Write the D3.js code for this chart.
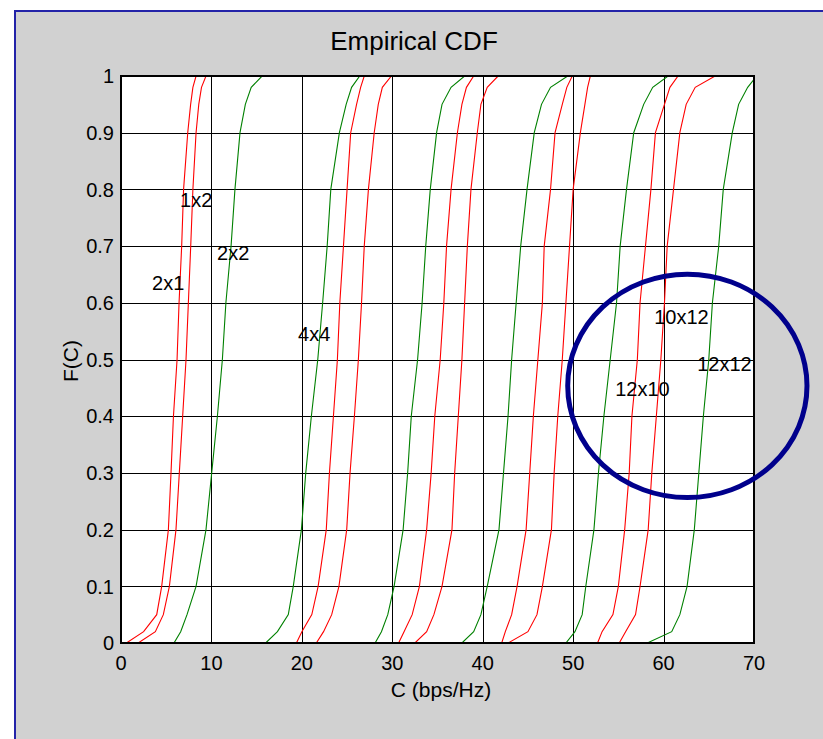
<!DOCTYPE html>
<html>
<head>
<meta charset="utf-8">
<script src="https://cdn.jsdelivr.net/npm/d3@7"></script>
<style>
  body { margin: 0; background: #fff; }
  text { font-family: "Liberation Sans", Arial, sans-serif; fill: #000; }
</style>
</head>
<body>
<div id="chart"></div>
<script>
const levels = [0, 0.02, 0.05, 0.1, 0.2, 0.3, 0.4, 0.5, 0.6, 0.7, 0.8, 0.9, 0.95, 0.98, 1];

// capacity (bps/Hz) at each level, one array per antenna configuration
const c2x1   = [0.6, 2.5, 3.95, 4.5, 5.24, 5.53, 5.8, 6.2, 6.42, 6.71, 6.92, 7.38, 7.7, 7.95, 8.3];
const c1x2   = [1.9, 3.8, 4.68, 5.35, 6.08, 6.45, 6.82, 7.19, 7.45, 7.71, 7.95, 8.3, 8.6, 8.9, 9.4];
const c2x2   = [5.86, 6.6, 7.3, 8.3, 9.4, 10.03, 10.66, 11.21, 11.6, 12.17, 12.6, 13.16, 13.75, 14.4, 15.6];
const c4x4   = [16.0, 17.3, 18.5, 19.05, 19.95, 20.43, 21.05, 21.76, 22.3, 22.8, 23.2, 24.15, 24.9, 25.5, 26.4];
const c6x4   = [19.4, 20.0, 21.1, 21.8, 22.7, 23.05, 23.49, 23.93, 24.2, 24.6, 25.0, 25.4, 26.05, 26.5, 26.9];
const c4x6   = [21.6, 22.4, 23.3, 24.1, 24.96, 25.33, 25.81, 26.25, 26.6, 26.9, 27.36, 28.0, 28.45, 28.9, 29.9];
const c6x6   = [28.1, 28.8, 29.5, 30.2, 31.2, 31.7, 32.1, 32.8, 33.3, 33.7, 34.2, 34.9, 35.5, 36.5, 38.0];
const c8x6   = [30.7, 31.3, 32.2, 33.0, 33.8, 34.3, 34.7, 35.3, 35.7, 36.0, 36.5, 37.2, 37.7, 38.2, 39.0];
const c6x8   = [32.5, 33.8, 34.6, 35.5, 36.6, 36.9, 37.3, 37.7, 38.0, 38.3, 38.7, 39.4, 39.8, 40.5, 41.7];
const c8x8   = [37.7, 39.0, 39.8, 40.5, 41.8, 42.3, 42.8, 43.2, 43.7, 44.2, 44.9, 45.7, 46.5, 47.5, 49.4];
const c10x8  = [42.1, 42.5, 43.2, 43.8, 44.8, 45.2, 45.6, 46.1, 46.6, 46.8, 47.5, 48.0, 48.8, 49.3, 49.9];
const c8x10  = [42.8, 45.0, 46.0, 46.6, 47.6, 47.9, 48.3, 48.8, 49.2, 49.6, 50.0, 50.8, 51.3, 51.6, 51.9];
const c10x10 = [49.2, 50.2, 51.0, 51.4, 52.3, 52.8, 53.4, 54.1, 54.8, 55.2, 55.9, 56.7, 57.8, 58.8, 60.5];
const c12x10 = [52.7, 53.2, 54.4, 55.0, 55.7, 56.2, 56.5, 57.1, 57.4, 58.0, 58.6, 59.1, 60.1, 60.7, 61.6];
const c10x12 = [55.1, 55.8, 56.9, 57.4, 58.3, 58.7, 59.2, 59.7, 60.1, 60.4, 61.1, 61.8, 62.5, 63.5, 65.7];
const c12x12 = [58.2, 60.9, 61.8, 62.6, 63.4, 63.9, 64.4, 65.0, 65.4, 66.1, 66.6, 67.6, 68.3, 69.3, 70.3];

const series = [
  { values: c2x1, color: "red" }, { values: c1x2, color: "red" }, { values: c2x2, color: "green" },
  { values: c4x4, color: "green" }, { values: c6x4, color: "red" }, { values: c4x6, color: "red" },
  { values: c6x6, color: "green" }, { values: c8x6, color: "red" }, { values: c6x8, color: "red" },
  { values: c8x8, color: "green" }, { values: c10x8, color: "red" }, { values: c8x10, color: "red" },
  { values: c10x10, color: "green" }, { values: c12x10, color: "red" }, { values: c10x12, color: "red" },
  { values: c12x12, color: "green" }
];

const xTicks = [0, 10, 20, 30, 40, 50, 60, 70];
const yTicks = [0, 0.1, 0.2, 0.3, 0.4, 0.5, 0.6, 0.7, 0.8, 0.9, 1];

// text annotations: label, C, F (left edge / vertical middle)
const labelText = ["1x2", "2x1", "2x2", "4x4", "10x12", "12x10", "12x12"];
const labelC    = [6.53, 3.43, 10.62, 19.58, 58.96, 54.65, 63.72];
const labelF    = [0.782, 0.635, 0.688, 0.545, 0.575, 0.448, 0.492];

// highlighted ellipse (centre C, F and radii in data units)
const ellipse = { c: 62.63, f: 0.4535, rc: 13.23, rf: 0.197 };

const W = 823, H = 739;
const svg = d3.select("#chart").append("svg")
  .attr("width", W).attr("height", H);

// figure background with blue frame on top/left
svg.append("rect").attr("x", 14).attr("y", 10).attr("width", W - 14).attr("height", H - 10)
  .attr("fill", "#d1d1d1");
svg.append("line").attr("x1", 14).attr("x2", W).attr("y1", 11).attr("y2", 11)
  .attr("stroke", "#2323a8").attr("stroke-width", 2);
svg.append("line").attr("x1", 15).attr("x2", 15).attr("y1", 10).attr("y2", H)
  .attr("stroke", "#2323a8").attr("stroke-width", 2);

const x = d3.scaleLinear().domain([0, 70]).range([121, 754]);
const y = d3.scaleLinear().domain([0, 1]).range([643, 76]);
const px = v => Math.round(x(v)) + 0.5;
const py = v => Math.round(y(v)) + 0.5;

svg.append("rect")
  .attr("x", x(0)).attr("y", y(1))
  .attr("width", x(70) - x(0)).attr("height", y(0) - y(1))
  .attr("fill", "#fff");

svg.append("clipPath").attr("id", "plot")
  .append("rect")
  .attr("x", x(0)).attr("y", y(1))
  .attr("width", x(70) - x(0)).attr("height", y(0) - y(1));

// grid
svg.append("g").selectAll("line").data(xTicks).join("line")
  .attr("x1", d => px(d)).attr("x2", d => px(d))
  .attr("y1", y(0)).attr("y2", y(1))
  .attr("stroke", "#000").attr("stroke-width", 1);
svg.append("g").selectAll("line").data(yTicks).join("line")
  .attr("x1", x(0)).attr("x2", x(70))
  .attr("y1", d => py(d)).attr("y2", d => py(d))
  .attr("stroke", "#000").attr("stroke-width", 1);

// curves
const line = d3.line()
  .x(d => x(d[0]))
  .y(d => y(d[1]));

svg.append("g").attr("clip-path", "url(#plot)")
  .selectAll("path").data(series).join("path")
  .attr("d", s => line(s.values.map((v, i) => [v, levels[i]])))
  .attr("fill", "none")
  .attr("stroke", s => s.color === "red" ? "#ff0000" : "#008000")
  .attr("stroke-width", 1.1);

// axes box
svg.append("rect")
  .attr("x", x(0)).attr("y", y(1))
  .attr("width", x(70) - x(0)).attr("height", y(0) - y(1))
  .attr("fill", "none").attr("stroke", "#000").attr("stroke-width", 2);

// tick labels
svg.append("g").selectAll("text").data(xTicks).join("text")
  .attr("x", d => x(d)).attr("y", 670)
  .attr("text-anchor", "middle").attr("font-size", 20)
  .text(d => d);
svg.append("g").selectAll("text").data(yTicks).join("text")
  .attr("x", 114).attr("y", d => y(d)).attr("dy", "0.36em")
  .attr("text-anchor", "end").attr("font-size", 20)
  .text(d => (d === 0 || d === 1) ? d : d.toFixed(1));

// titles
svg.append("text").attr("x", 414).attr("y", 50)
  .attr("text-anchor", "middle").attr("font-size", 26)
  .text("Empirical CDF");
svg.append("text").attr("x", 441).attr("y", 697)
  .attr("text-anchor", "middle").attr("font-size", 21)
  .text("C (bps/Hz)");
svg.append("text")
  .attr("transform", "translate(78,361) rotate(-90)")
  .attr("text-anchor", "middle").attr("font-size", 21)
  .text("F(C)");

// curve labels
svg.append("g").selectAll("text").data(labelText).join("text")
  .attr("x", (d, i) => x(labelC[i])).attr("y", (d, i) => y(labelF[i]))
  .attr("dy", "0.36em").attr("font-size", 20)
  .text(d => d);

// ellipse annotation
svg.append("ellipse")
  .attr("cx", x(ellipse.c)).attr("cy", y(ellipse.f))
  .attr("rx", x(ellipse.c + ellipse.rc) - x(ellipse.c))
  .attr("ry", y(ellipse.f - ellipse.rf) - y(ellipse.f))
  .attr("fill", "none").attr("stroke", "#00008c").attr("stroke-width", 5);
</script>
</body>
</html>
